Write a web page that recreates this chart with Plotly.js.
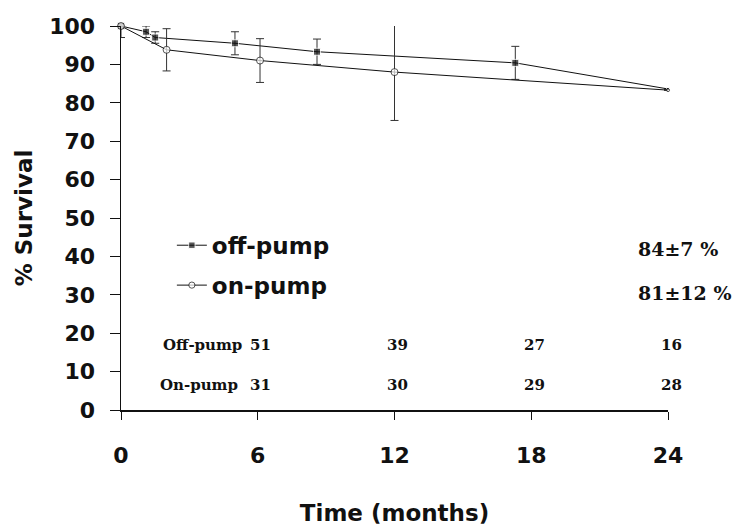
<!DOCTYPE html>
<html>
<head>
<meta charset="utf-8">
<script src="https://cdn.plot.ly/plotly-3.0.1.min.js"></script>
<style>html,body{margin:0;padding:0;background:#fff}#chart{width:735px;height:532px}</style>
</head>
<body>
<div id="chart"></div>
<script>
// Data
const offMonths = [0, 1.1, 1.5, 5.0, 8.6, 17.3, 24];
const offSurvival = [100, 98.5, 97.0, 95.5, 93.3, 90.4, 83.6];
const offError = [0, 1.5, 1.5, 3.0, 3.3, 4.3, 0];
const onMonths = [0, 2.0, 6.1, 12.0, 24];
const onSurvival = [100, 93.8, 91.0, 88.0, 83.3];
const onError = [3.0, 5.5, 5.7, 12.6, 0];
const xTicks = [0, 6, 12, 18, 24];
const yTicks = [0, 10, 20, 30, 40, 50, 60, 70, 80, 90, 100];
const riskMonths = [6, 12, 18, 24];
const riskOff = [51, 39, 27, 16];
const riskOn = [31, 30, 29, 28];
const finalOff = "84±7 %";
const finalOn = "81±12 %";

const sans = "DejaVu Sans, Arial, sans-serif";
const serif = "DejaVu Serif, Times New Roman, serif";

const traces = [
  {
    x: offMonths, y: offSurvival, name: "off-pump", type: "scatter", mode: "lines+markers",
    legendgroup: "a", cliponaxis: false,
    line: {color: "#111", width: 1},
    marker: {symbol: "square", size: offMonths.map((m, i) => i === offMonths.length - 1 ? 3 : 7), color: "#111"},
    error_y: {type: "data", array: offError, visible: true, color: "#333", thickness: 1, width: 4}
  },
  {
    x: onMonths, y: onSurvival, name: "on-pump", type: "scatter", mode: "lines+markers",
    legendgroup: "b", cliponaxis: false,
    line: {color: "#111", width: 1},
    marker: {symbol: "circle", size: onMonths.map((m, i) => i === onMonths.length - 1 ? 3 : 7), color: "#fff", line: {color: "#111", width: 1}},
    error_y: {type: "data", array: onError, visible: true, color: "#333", thickness: 1, width: 4}
  }
];

const riskFont = {family: serif, size: 15, color: "#111", weight: "bold"};
const annotations = [];
annotations.push({x: riskMonths[0], y: 16.9, xref: "x", yref: "y", text: "Off-pump", showarrow: false, xanchor: "right", xshift: -14, font: riskFont});
annotations.push({x: riskMonths[0], y: 6.6, xref: "x", yref: "y", text: "On-pump", showarrow: false, xanchor: "right", xshift: -18, font: riskFont});
riskMonths.forEach((m, i) => {
  annotations.push({x: m, y: 16.9, xref: "x", yref: "y", text: String(riskOff[i]), showarrow: false, xshift: 3, font: riskFont});
  annotations.push({x: m, y: 6.6, xref: "x", yref: "y", text: String(riskOn[i]), showarrow: false, xshift: 3, font: riskFont});
});
const finFont = {family: serif, size: 19, color: "#111", weight: "bold"};
annotations.push({x: 24, y: 41.9, xref: "x", yref: "y", text: finalOff, showarrow: false, xanchor: "left", xshift: -32, font: finFont});
annotations.push({x: 24, y: 30.5, xref: "x", yref: "y", text: finalOn, showarrow: false, xanchor: "left", xshift: -32, font: finFont});

const layout = {
  width: 735, height: 532,
  margin: {l: 121, r: 67, t: 26, b: 122},
  paper_bgcolor: "#fff", plot_bgcolor: "#fff",
  showlegend: true,
  legend: {x: 0.093, y: 0.485, xanchor: "left", yanchor: "top", bgcolor: "rgba(0,0,0,0)",
    traceorder: "grouped", tracegroupgap: 7, itemwidth: 30,
    font: {family: sans, size: 23, color: "#111", weight: "bold"}},
  xaxis: {
    range: [0, 24], tickvals: xTicks, ticktext: xTicks.map(String),
    showgrid: false, zeroline: false, showline: true, linecolor: "#111", linewidth: 1.5,
    ticks: "outside", ticklen: 8, tickcolor: "#111", tickwidth: 1, ticklabelstandoff: 17,
    tickfont: {family: sans, size: 22, color: "#111", weight: "bold"},
    title: {text: "Time (months)", font: {family: sans, size: 23, color: "#111", weight: "bold"}, standoff: 38}
  },
  yaxis: {
    range: [0, 100], tickvals: yTicks, ticktext: yTicks.map(String),
    showgrid: false, zeroline: false, showline: true, linecolor: "#111", linewidth: 1.5,
    ticks: "outside", ticklen: 10, tickcolor: "#111", tickwidth: 1, ticklabelstandoff: 10,
    tickfont: {family: sans, size: 22, color: "#111", weight: "bold"},
    title: {text: "% Survival", font: {family: sans, size: 23, color: "#111", weight: "bold"}, standoff: 10}
  },
  annotations: annotations
};

Plotly.newPlot("chart", traces, layout, {displayModeBar: false, staticPlot: true});
</script>
</body>
</html>
